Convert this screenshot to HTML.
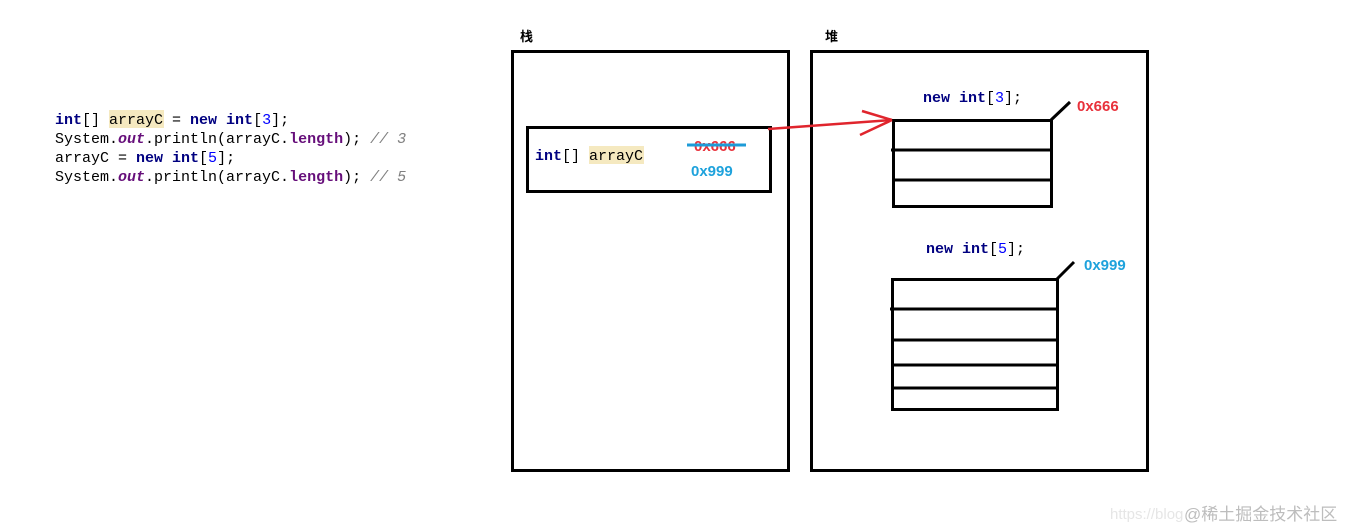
<!DOCTYPE html>
<html><head><meta charset="utf-8"><style>
html,body{margin:0;padding:0;background:#fff;}
svg{display:block;}
.c{font-family:"Liberation Mono",monospace;font-size:15px;}
.k{fill:#000080;font-weight:bold;}
.n{fill:#0000ff;}
.p{fill:#660e7a;font-weight:bold;}
.o{fill:#660e7a;font-weight:bold;font-style:italic;}
.cm{fill:#808080;font-style:italic;}
.h{font-family:"Liberation Sans","Noto Sans CJK SC",sans-serif;font-weight:bold;font-size:13px;}
.a{font-family:"Liberation Sans",sans-serif;font-weight:bold;font-size:15px;}
</style></head><body>
<svg width="1350" height="530" xmlns="http://www.w3.org/2000/svg">
<rect x="109" y="110" width="55" height="18" fill="#f5e9c0"/>
<text class="c" x="55" y="124"><tspan class="k">int</tspan>[] arrayC = <tspan class="k">new int</tspan>[<tspan class="n">3</tspan>];</text>
<text class="c" x="55" y="143">System.<tspan class="o">out</tspan>.println(arrayC.<tspan class="p">length</tspan>); <tspan class="cm">// 3</tspan></text>
<text class="c" x="55" y="162">arrayC = <tspan class="k">new int</tspan>[<tspan class="n">5</tspan>];</text>
<text class="c" x="55" y="181">System.<tspan class="o">out</tspan>.println(arrayC.<tspan class="p">length</tspan>); <tspan class="cm">// 5</tspan></text>

<text class="h" x="520" y="41">栈</text>
<text class="h" x="825" y="41">堆</text>
<g fill="none" stroke="#000" stroke-width="3">
<rect x="512.5" y="51.5" width="276" height="419"/>
<rect x="811.5" y="51.5" width="336" height="419"/>
<rect x="527.5" y="127.5" width="243" height="64"/>
<rect x="893.5" y="120.5" width="158" height="86"/>
<line x1="891" y1="150" x2="1051" y2="150"/>
<line x1="893" y1="180" x2="1051" y2="180"/>
<line x1="1051" y1="120" x2="1070" y2="102"/>
<rect x="892.5" y="279.5" width="165" height="130"/>
<line x1="890" y1="309" x2="1057" y2="309"/>
<line x1="892" y1="340" x2="1057" y2="340"/>
<line x1="892" y1="365" x2="1056" y2="365"/>
<line x1="892" y1="388" x2="1056" y2="388"/>
<line x1="1057" y1="279" x2="1074" y2="262"/>
</g>
<rect x="589" y="146" width="55" height="18" fill="#f5e9c0"/>
<text class="c" x="535" y="160"><tspan class="k">int</tspan>[] arrayC</text>
<text class="a" x="694" y="151" fill="#e8313b">0x666</text>
<line x1="687" y1="145" x2="746" y2="145" stroke="#1e9bd7" stroke-width="3"/>
<text class="a" x="691" y="176" fill="#1ea2dc">0x999</text>
<g stroke="#e0252d" stroke-width="2.5" fill="none">
<line x1="768" y1="129" x2="892" y2="120"/>
<line x1="862" y1="111" x2="892" y2="120"/>
<line x1="860" y1="135" x2="892" y2="120"/>
</g>
<text class="c" x="923" y="102"><tspan class="k">new int</tspan>[<tspan class="n">3</tspan>];</text>
<text class="a" x="1077" y="111" fill="#e8313b">0x666</text>
<text class="c" x="926" y="253"><tspan class="k">new int</tspan>[<tspan class="n">5</tspan>];</text>
<text class="a" x="1084" y="270" fill="#1ea2dc">0x999</text>
<text x="1110" y="519" font-family="Liberation Sans,sans-serif" font-size="15" fill="#e6e6e6">https://blog</text>
<text x="1184" y="520" font-family="Liberation Sans,'Noto Sans CJK SC',sans-serif" font-size="17" fill="#bdbdbd">@稀土掘金技术社区</text>
</svg>
</body></html>
